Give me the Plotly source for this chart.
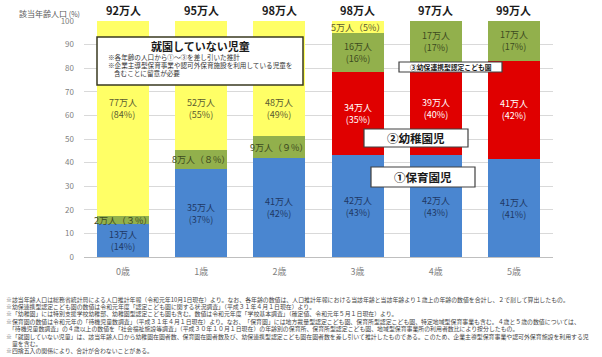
import plotly.graph_objects as go

# ---------------- data ----------------
ages = ["0歳", "1歳", "2歳", "3歳", "4歳", "5歳"]
totals = ["92万人", "95万人", "98万人", "98万人", "97万人", "99万人"]

hoiku_share = [14.0, 37.2, 41.9, 43.2, 43.2, 41.4]        # ①保育園児
yochien_share = [0, 0, 0, 35.3, 39.6, 41.8]                # ②幼稚園児
kodomoen_share = [3.2, 8.1, 9.3, 16.3, 17.2, 16.8]         # ③幼保連携型認定こども園
mishugaku_share = [82.8, 54.7, 48.8, 5.2, 0, 0]            # 就園していない児童

hoiku_people = ["13万人", "35万人", "41万人", "42万人", "42万人", "41万人"]
hoiku_pct = ["14%", "37%", "42%", "43%", "43%", "41%"]
yochien_people = [None, None, None, "34万人", "39万人", "41万人"]
yochien_pct = [None, None, None, "35%", "40%", "42%"]
kodomoen_people = ["2万人", "8万人", "9万人", "16万人", "17万人", "17万人"]
kodomoen_pct = ["３%", "８%", "９%", "16%", "17%", "17%"]
mishugaku_people = ["77万人", "52万人", "48万人", "5万人", None, None]
mishugaku_pct = ["84%", "55%", "49%", "5%", None, None]

footnotes = [
    "※該当年齢人口は総務省統計局による人口推計年報（令和元年10月1日現在）より。なお、各年齢の数値は、人口推計年報における当該年齢と当該年齢より１歳上の年齢の数値を合計し、２で割して算出したもの。",
    "※幼保連携型認定こども園の数値は令和元年度「認定こども園に関する状況調査」（平成３１年４月１日現在）より。",
    "※「幼稚園」には特別支援学校幼稚部、幼稚園型認定こども園も含む。数値は令和元年度「学校基本調査」（確定値、令和元年５月１日現在）より。",
    "※保育園の数値は令和元年の「待機児童数調査」（平成３１年４月１日現在）より。なお、「保育園」には地方裁量型認定こども園、保育所型認定こども園、特定地域型保育事業も含む。４歳と５歳の数値については、",
    "　「待機児童数調査」の４歳以上の数値を「社会福祉施設等調査」（平成３０年１０月１日現在）の年齢別の保育所、保育所型認定こども園、地域型保育事業所の利用者数比により按分したもの。",
    "※「就園していない児童」は、該当年齢人口から幼稚園在園者数、保育園在園者数及び、幼保連携型認定こども園在園者数を差し引いて推計したものである。このため、企業主導型保育事業や認可外保育施設を利用する児",
    "　童を含む。",
    "※四捨五入の関係により、合計が合わないことがある。",
]

# ---------------- style ----------------
FONT = "Noto Sans CJK JP, Noto Sans, sans-serif"
W, H = 602, 357
L, R, T, B = 84, 553, 21, 257          # plot area in pixels

def px_x(p):
    return (p - L) / (R - L)

def px_y(p):
    return (B - p) / (B - T)

series = [
    ("①保育園児", hoiku_share, hoiku_people, hoiku_pct, "#4a86d0", "#1f3864"),
    ("②幼稚園児", yochien_share, yochien_people, yochien_pct, "#e00000", "#ffffff"),
    ("③幼保連携型認定こども園", kodomoen_share, kodomoen_people, kodomoen_pct, "#92b04c", "#3d4a1f"),
    ("就園していない児童", mishugaku_share, mishugaku_people, mishugaku_pct, "#ffff66", "#5a5a30"),
]

fig = go.Figure()
for name, vals, _, _, color, _ in series:
    fig.add_trace(go.Bar(
        x=ages, y=vals, name=name, marker=dict(color=color, line=dict(width=0)),
        hoverinfo="skip", showlegend=False,
    ))

annotations = []

def note(x, y, text, size, color="#1a1a1a", xanchor="center", xref="paper", yref="paper"):
    annotations.append(dict(
        x=x, y=y, xref=xref, yref=yref, text=text, showarrow=False,
        xanchor=xanchor, yanchor="middle", align="center",
        font=dict(family=FONT, size=size, color=color),
    ))

base = [0.0] * len(ages)
for name, vals, people, pct, color, tcolor in series:
    for i, age in enumerate(ages):
        v = vals[i]
        if people[i] is not None and v > 0:
            center = base[i] + v / 2
            if v < 10:
                text = f"{people[i]}（{pct[i]}）"
                y = center
            else:
                text = f"{people[i]}<br>({pct[i]})"
                y = center
                if base[i] + v >= 99.9 and v > 30:
                    y = 63   # below the explanatory box
            note(age, y, text, 9, tcolor, xref="x", yref="y")
        base[i] += v

# totals above bars
for i, age in enumerate(ages):
    note(age, px_y(10), f"<b>{totals[i]}</b>", 11, "#1a1a1a", xref="x")

# y-axis title
note(px_x(17), px_y(13), "該当年齢人口 <span style='font-size:7px'>(%)</span>", 8,
     "#595959", xanchor="left")

shapes = []

def box(x0, y0, x1, y1, color="#404040", width=1.2):
    shapes.append(dict(
        type="rect", xref="paper", yref="paper",
        x0=px_x(x0), x1=px_x(x1), y0=px_y(y1), y1=px_y(y0),
        line=dict(color=color, width=width), fillcolor="#ffffff", layer="above",
    ))

# 就園していない児童 box
box(97, 37, 303, 85, color="#3a3a20", width=1.5)
note(px_x(200), px_y(46), "<b>就園していない児童</b>", 11)
notes_box = [
    (106, 57, "※各年齢の人口から①～③を差し引いた推計"),
    (106, 65, "※企業主導型保育事業や認可外保育施設を利用している児童を"),
    (112, 73, "含むことに留意が必要"),
]
for nx, ny, t in notes_box:
    note(px_x(nx), px_y(ny), t, 6.6, "#333333", xanchor="left")

# category boxes
box(399, 62, 502, 72)
note(px_x(450.5), px_y(67), "<b>③幼保連携型認定こども園</b>", 6.8)
box(364, 129, 468, 147)
note(px_x(416), px_y(138), "<b>②幼稚園児</b>", 11.5)
box(371, 167, 475, 187)
note(px_x(423), px_y(177), "<b>①保育園児</b>", 11.5)

# footnotes
for k, line in enumerate(footnotes):
    note(px_x(4), px_y(299 + k * 7.4), line, 5.9, "#444444", xanchor="left")

fig.update_layout(
    width=W, height=H,
    margin=dict(l=L, r=W - R, t=T, b=H - B, pad=0),
    barmode="stack", bargap=0.335,
    plot_bgcolor="#ffffff", paper_bgcolor="#ffffff",
    font=dict(family=FONT),
    xaxis=dict(
        showgrid=False, showline=False, ticks="", zeroline=False,
        tickfont=dict(family=FONT, size=9, color="#7f7f7f"),
        ticklabelstandoff=8,
    ),
    yaxis=dict(
        range=[0, 100], dtick=10, showgrid=True, gridcolor="#d9d9d9", gridwidth=1,
        zeroline=True, zerolinecolor="#bfbfbf", zerolinewidth=1,
        showline=False, ticks="",
        tickfont=dict(family=FONT, size=8, color="#7f7f7f"),
        ticklabelstandoff=9,
    ),
    annotations=annotations,
    shapes=shapes,
)

fig.write_html("out.html", config={"displayModeBar": False},
               post_script="document.body.style.margin='0';")
